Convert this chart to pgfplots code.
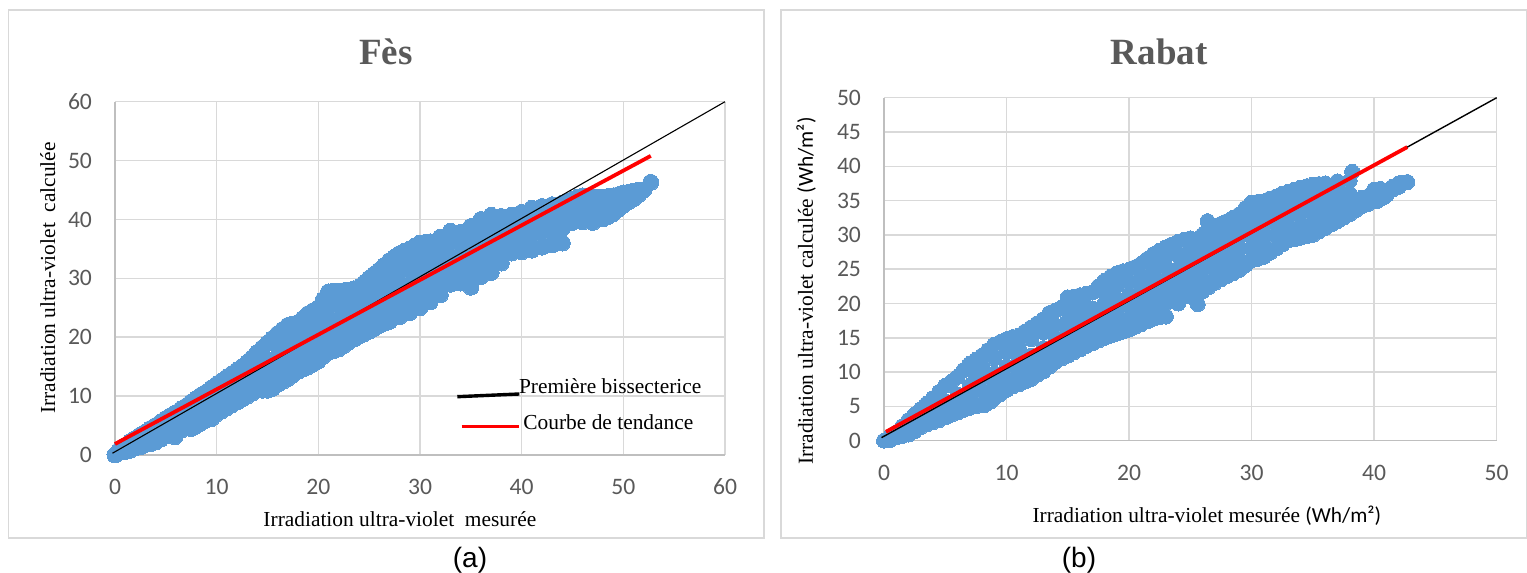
\documentclass[border=0pt]{standalone}
\usepackage{fontspec}
\setmainfont{Liberation Serif}
\newfontfamily\tickfont{Carlito}
\newfontfamily\capfont{Liberation Sans}
\usepackage{pgfplots}
\pgfplotsset{compat=1.18}
\definecolor{dots}{HTML}{5B9BD5}
\definecolor{gridc}{HTML}{D9D9D9}
\definecolor{axisc}{HTML}{BFBFBF}
\definecolor{txt}{HTML}{595959}
\pgfplotsset{panel/.style={
  scale only axis, clip=false, clip marker paths=true, axis lines=left, axis line style={-, axisc, line width=0.8pt},
  grid=major, grid style={gridc, line width=0.75pt}, major tick length=0pt,
  tick label style={font=\tickfont\fontsize{11.8}{13}\selectfont, text=txt},
  /pgf/number format/assume math mode=true,
  title style={font=\bfseries\fontsize{18.5}{22}\selectfont, text=txt, anchor=center, yshift=-6pt},
  label style={font=\fontsize{10.7}{12}\selectfont, anchor=center},
  xticklabel style={yshift=-8.5pt}, yticklabel style={xshift=-8pt},
}}
\begin{document}
\begin{tikzpicture}
\path[use as bounding box] (0,0) rectangle (763.5pt,286.5pt);
\draw[gridc, line width=0.8pt] (4.25pt,17.5pt) rectangle (382pt,281.5pt);
\draw[gridc, line width=0.8pt] (390.5pt,17.5pt) rectangle (763.2pt,281.5pt);
\begin{axis}[panel, at={(57.5pt,59pt)}, anchor=south west, width=305pt, height=176.65pt,
  xmin=0, xmax=60, ymin=0, ymax=60, xtick={0,10,...,60}, ytick={0,10,...,60},
  title={Fès}, title style={at={(axis description cs:0.444,1.1407)}},
  xlabel={Irradiation ultra-violet\ \ mesurée}, xlabel style={at={(axis description cs:0.467,-0.181)}},
  ylabel={Irradiation ultra-violet\ \ calculée}, ylabel style={at={(axis description cs:-0.11,0.501)}},
]
\addplot[only marks, mark=*, mark size=4pt, mark options={fill=dots, draw=dots, line width=0pt}] coordinates {
(0,0)(1,0.6)(2,1.2)(3,1.8)(4,2.2)(5,3.2)(5.9,3.1)(7,4.6)(8,5)(9,6)(10,7)(11,8)(12,9)(13,10)(14,11)(15,11)(16,12)(17,13)(18,14.2)(19,15)(20,16)(21,17.5)(22,18)(23,19.2)(24,20.2)(25,21)(26,22)(27,22.7)(28,23.5)(29,24.2)(30,25)(31,26)(32,27.2)(33,29)(34,29.2)(35,28.5)(36,30.3)(37,31)(38,32.6)(39,34.3)(40,34.5)(41,34.8)(42,35.3)(43,35.7)(44,36)(45,39.5)(46,39.6)(47,39.5)(48,40.1)(49,41)(50,42.4)(51,43.5)(52,45)(52.7,46.3)
(1.5,0.8)(2.5,1.4)(3.5,1.9)(4.5,2.7)(6.5,4.2)(7.5,4.5)(8.5,5.5)(9.5,6.2)(10.5,7.5)(11.5,8.5)(12.5,9.5)(13.5,10.5)(14.5,11)(15.5,11.3)(16.5,12.5)(17.5,13.6)(18.5,14.6)(19.5,15.5)(20.5,16.8)(21.5,17.7)(22.5,18.6)(23.5,19.7)(24.5,20.6)(25.5,21.5)(26.5,22.4)(48.5,40.5)(49.5,41.7)(50.5,43)(51.5,44.2)
(1,1.6)(2,2.8)(3,3.9)(4,5)(5,6.2)(6,7.2)(7,8.3)(8,9.6)(9,10.7)(10,12)(11,13.2)(12,14.4)(13,15.7)(14,17.4)(15,19)(16,20.6)(17,22)(18,22.5)(19,24)(20,25)(21,27.7)(22,27.8)(23,28)(24,28.5)(25,30)(26,31.4)(27,33)(28,34.2)(29,35)(30,36)(31,36.2)(32,37)(33,38)(34,37.8)(35,38.8)(36,40)(37,40.7)(38,40.5)(39,40.7)(40,41.2)(41,41.9)(42,42.2)(43,42.5)(44,42.8)(45,43.4)(46,44)(47,43.8)(48,43.8)(49,44)(50,44.5)(51,44.8)
(0.5,1)(1.5,2.3)(2.5,3.4)(3.5,4.5)(4.5,5.6)(5.5,6.7)(6.5,7.8)(7.5,9)(8.5,10.2)(9.5,11.4)(10.5,12.6)(11.5,13.8)(12.5,15)(13.5,16.5)(14.5,18.2)(15.5,19.8)(16.5,21.3)(17.5,22.2)(18.5,23.2)(19.5,24.5)(20.5,26.4)(21.5,27.8)(22.5,27.9)(23.5,28.2)(24.5,29.2)(25.5,30.7)(26.5,32.2)(27.5,33.6)(28.5,34.6)(29.5,35.5)(30.5,36.1)(44.5,43)(45.5,43.8)(46.5,43.9)(47.5,43.8)(48.5,43.9)(49.5,44.2)(50.5,44.6)(51.5,45)
(5,4.7)(6,5.2)(7,6.4)(8,7.3)(9,8.4)(10,9.5)(11,10.6)(12,11.7)(13,12.2)(13,13.8)(14,13.2)(14,15.2)(15,13.5)(15,16.2)(16,14.2)(16,16.6)(16,18.6)(17,15.5)(17,18)(17,20)(18,16.5)(18,19)(18,21)(19,17.5)(19,20)(19,22)(20,18.5)(20,21)(20,23)(21,20)(21,22.5)(21,25)(22,20.5)(22,23)(22,25.5)(23,21.5)(23,24)(23,26)(24,22.5)(24,25)(24,27)(25,23.5)(25,26)(25,28)(26,24.5)(26,27)(26,29.5)(27,25.2)(27,27.7)(27,30.2)(28,26)(28,28.5)(28,31)(28,32.5)(29,26.5)(29,29)(29,31.5)(29,33.5)(30,27.5)(30,30)(30,32.5)(30,34.5)(31,28.5)(31,31)(31,33.5)(32,29.5)(32,32)(32,34.5)(33,31)(33,33.5)(33,36)(34,31.5)(34,34)(34,36)(35,31)(35,33.5)(35,36.3)(36,32.5)(36,35)(36,37.5)(37,33.5)(37,36)(37,38.5)(38,35)(38,37.5)(38,39)(39,36.5)(39,38.8)(40,37)(40,39.2)(41,37.3)(41,39.7)(42,37.8)(42,40.2)(43,38.2)(43,40.5)(44,38.5)(44,41)(45,41.5)(46,41.8)(47,41.6)(48,42)(49,42.5)
};
\addplot[black, line width=0.55pt] coordinates {(-0.25,0.3)(60,60)};
\addplot[red, line width=1.9pt] coordinates {(0,1.87)(52.7,50.8)};
\end{axis}
\begin{axis}[panel, at={(442pt,66.15pt)}, anchor=south west, width=306.35pt, height=171.5pt,
  xmin=0, xmax=50, ymin=0, ymax=50, xtick={0,10,...,50}, ytick={0,5,...,50},
  title={Rabat}, title style={at={(axis description cs:0.449,1.133)}},
  xlabel={Irradiation ultra-violet mesurée {\tickfont(Wh/m²)}}, xlabel style={at={(axis description cs:0.527,-0.22)}},
  ylabel={Irradiation ultra-violet calculée {\tickfont(Wh/m²)}}, ylabel style={at={(axis description cs:-0.127,0.436)}},
]
\addplot[only marks, mark=*, mark size=3.75pt, mark options={fill=dots, draw=dots, line width=0pt}] coordinates {
(0,0)(0.5,0.1)(1,0.5)(2,0.9)(3,2)(4,2.7)(5,3.4)(6,4.1)(7,4.8)(8.2,5.2)(9,6.2)(10,7.4)(11,8.2)(12,9)(13,10.1)(14,11.5)(15,12.4)(16,13.3)(17,14.2)(18,15)(19,15.6)(20,16.2)(21,17)(22,17.8)(23,18.1)(24,20)(25.6,19.9)(25,21)(26,21.8)(27,23)(28,24)(29,24.9)(30,26.3)(31,26.8)(32,28)(33,29.2)(34,29.6)(35,30)(36,31)(37,32)(38,33)(39,34.2)(40.2,34.9)(41,35.8)(42,37)(42.7,37.7)
(1.5,0.7)(2.5,1.4)(3.5,2.4)(4.5,3)(5.5,3.8)(6.5,4.5)(7.5,5)(8.7,5.7)(9.5,6.8)(10.5,7.9)(11.5,8.6)(12.5,9.6)(13.5,10.8)(14.5,12)(15.5,12.9)(16.5,13.8)(17.5,14.6)(18.5,15.3)(19.5,15.9)(20.5,16.6)(21.5,17.4)(22.5,18)(26.5,22.4)(27.5,23.5)(28.5,24.4)(29.5,25.6)(30.5,26.5)(31.5,27.4)(32.5,28.6)(33.5,29.4)(34.5,29.8)(35.5,30.5)(36.5,31.5)(37.5,32.5)(38.5,33.6)(39.5,34.5)(40.7,35.4)(41.5,36.6)
(1,1.2)(2,3)(3,4.6)(4,6.2)(5,8)(6,9.3)(7,11.2)(8,12.4)(9,14)(10,14.8)(11,15.3)(12,16.5)(13,17.7)(14,19)(15,20.9)(16,21.2)(17,21.6)(18,23.3)(19,24.4)(20,24.9)(21,25.8)(22,27.2)(23,28.2)(24,29)(25,29.5)(26,30)(26.4,32)(27,31.2)(28,32)(29,33)(30,34.7)(31,34.9)(32,35.6)(33,36.3)(34,36.9)(35,37.3)(36,37.5)(37,37.8)(38,37.9)(38.2,39.2)(39,35.4)(40,36.6)(41,36.4)(42,37.5)
(0.5,0.6)(1.5,2.1)(2.5,3.8)(3.5,5.4)(4.5,7.1)(5.5,8.6)(6.5,10.3)(7.5,11.8)(8.5,13.2)(9.5,14.4)(10.5,15.1)(11.5,15.9)(12.5,17.1)(13.5,18.6)(14.5,19.4)(15.5,21)(16.5,21.4)(17.5,22.5)(18.5,23.9)(19.5,24.7)(20.5,25.3)(21.5,26.5)(22.5,27.7)(23.5,28.6)(24.5,29.3)(27.5,31.6)(28.5,32.5)(29.5,33.9)(30.5,34.8)(31.5,35.3)(32.5,36)(33.5,36.6)(34.5,37.1)(35.5,37.4)(39.5,35.6)(40.5,36.7)(41.5,37)(42.3,37.6)
(1.5,1.1)(2.5,2.4)(3.5,3.5)(4,4.4)(4.5,3.8)(5,5.7)(5.5,4.8)(6,6.7)(6.5,5.5)(7,8)(7,6.4)(7.5,9.6)(8,7.2)(8,9)(8,10.8)(9,8)(9,9.8)(9,12)(10,9)(10,10.8)(10,12.9)(11,10)(11,11.6)(11,13.5)(12,10.7)(12,12.4)(12,14.8)(13,11.8)(13,13.5)(13,15.8)(14,13.2)(14,14.9)(14,16.8)(15,14.2)(15,15.8)(15,17.5)(15,19.2)(16,15)(16,16.8)(16,18.4)(16,19.8)(17,15.9)(17,17.7)(17,19.3)(18,16.7)(18,18.3)(18,20)(18,21.6)(19,17.3)(19,19)(19,20.7)(19,22.6)(20,17.8)(20,19.5)(20,21.2)(20,23)(21,18.7)(21,20.4)(21,22.1)(21,24)(22,19.5)(22,21.2)(22,22.9)(22,24.7)(22,26)(23,20)(23,21.7)(23,23.4)(23,25.2)(23,26.8)(24,21.7)(24,23.4)(24,25.1)(24,27)(25,22.7)(25,24.4)(25,26)(25,27.8)(26,23.5)(26,25.2)(26,27)(26,28.5)(27,24.7)(27,26.4)(27,28.1)(27,29.8)(28,25.6)(28,27.3)(28,29)(28,30.6)(29,26.5)(29,28.2)(29,29.9)(29,31.5)(30,28)(30,29.7)(30,31.4)(30,33)(31,28.5)(31,30.2)(31,31.9)(31,33.5)(32,29.7)(32,31.4)(32,33.1)(32,34.2)(33,30.8)(33,32.5)(33,34.2)(33,35)(34,31.3)(34,33)(34,34.7)(34,35.5)(35,31.7)(35,33.4)(35,35.1)(35,36)(36,32.7)(36,34.4)(36,36)(37,33.7)(37,35.4)(37,36.8)(38,34.7)(38,36)
};
\addplot[black, line width=0.7pt] coordinates {(-0.2,0.45)(50,50)};
\addplot[red, line width=1.9pt] coordinates {(0.16,1.3)(42.7,42.8)};
\end{axis}
% hand-drawn key of panel (a)
\draw[black, line width=1.7pt] (228.65pt,88.15pt) -- (259.65pt,89.5pt);
\draw[red, line width=1.7pt] (230.85pt,73.35pt) -- (259.65pt,73.35pt);
\node[anchor=west, inner sep=0pt, font=\fontsize{10.7}{12}\selectfont] at (259.3pt,93.5pt) {Première bissecterice};
\node[anchor=west, inner sep=0pt, font=\fontsize{10.7}{12}\selectfont] at (261.5pt,75.5pt) {Courbe de tendance};
\node[font=\capfont\fontsize{14}{16}\selectfont] at (235pt,6.2pt) {(a)};
\node[font=\capfont\fontsize{14}{16}\selectfont] at (539.5pt,6.2pt) {(b)};
\end{tikzpicture}
\end{document}
